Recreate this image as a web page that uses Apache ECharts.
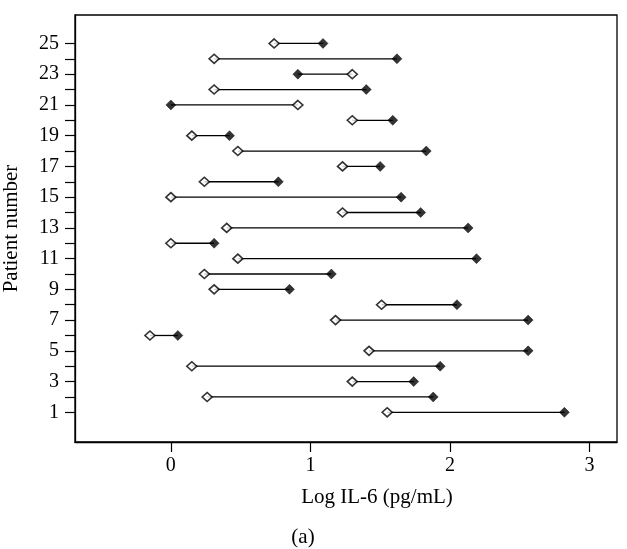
<!DOCTYPE html>
<html>
<head>
<meta charset="utf-8">
<script src="https://cdn.jsdelivr.net/npm/echarts@6/dist/echarts.min.js"></script>
<style>html,body{margin:0;padding:0;background:#fff;}#c{width:627px;height:549px;}</style>
</head>
<body>
<div id="c"></div>
<script>
// Patient numbers (y) and the two measured log IL-6 values per patient
var patients = [1,2,3,4,5,6,7,8,9,10,11,12,13,14,15,16,17,18,19,20,21,22,23,24,25];
var openValues   = [1.55,0.26,1.30,0.15,1.42,-0.15,1.18,1.51,0.31,0.24,0.48,0.00,0.40,1.23,0.00,0.24,1.23,0.48,0.15,1.30,0.91,0.31,1.30,0.31,0.74];
var filledValues = [2.82,1.88,1.74,1.93,2.56,0.05,2.56,2.05,0.85,1.15,2.19,0.31,2.13,1.79,1.65,0.77,1.50,1.83,0.42,1.59,0.00,1.40,0.91,1.62,1.09];
var xTicks = [0,1,2,3];
var yTicks = patients;
var yLabels = [1,3,5,7,9,11,13,15,17,19,21,23,25];

var FONT = 'Liberation Serif';
var chart = echarts.init(document.getElementById('c'), null, {renderer:'canvas'});

var segData = patients.map(function(p,i){ return [openValues[i], filledValues[i], p]; });
var openData = patients.map(function(p,i){ return [openValues[i], p]; });
var filledData = patients.map(function(p,i){ return [filledValues[i], p]; });

chart.setOption({
  animation:false,
  backgroundColor:'#fff',
  grid:{left:75, right:10, top:15, bottom:107, show:true, borderColor:'#000', borderWidth:1.3, containLabel:false, outerBoundsMode:'none'},
  xAxis:{
    type:'value', min:-0.687, max:3.197,
    splitLine:{show:false},
    axisLine:{show:true, onZero:false, lineStyle:{color:'#000', width:1.3}},
    axisTick:{show:true, length:10, lineStyle:{color:'#000', width:1.2}, customValues:xTicks},
    axisLabel:{customValues:xTicks, color:'#000', fontFamily:FONT, fontSize:20, margin:14}
  },
  yAxis:{
    type:'value', min:-0.93, max:26.85,
    splitLine:{show:false},
    axisLine:{show:true, onZero:false, lineStyle:{color:'#000', width:1.3}},
    axisTick:{show:true, length:10, lineStyle:{color:'#000', width:1.2}, customValues:yTicks},
    axisLabel:{customValues:yLabels, color:'#000', fontFamily:FONT, fontSize:20, margin:16},
    name:'Patient number', nameLocation:'middle', nameGap:53, nameRotate:90,
    nameTextStyle:{color:'#000', fontFamily:FONT, fontSize:21}
  },
  graphic:[
    {type:'text', x:377, y:497, style:{text:'Log IL-6 (pg/mL)', fill:'#000', font:'21px "Liberation Serif"', align:'center', verticalAlign:'middle'}},
    {type:'text', x:303, y:537, style:{text:'(a)', fill:'#000', font:'21px "Liberation Serif"', align:'center', verticalAlign:'middle'}}
  ],
  series:[
    {
      type:'custom', data:segData, encode:{x:[0,1], y:2}, z:1,
      renderItem:function(params, api){
        var a = api.coord([api.value(0), api.value(2)]);
        var b = api.coord([api.value(1), api.value(2)]);
        return {type:'line', shape:{x1:a[0], y1:a[1], x2:b[0], y2:b[1]}, style:{stroke:'#000', lineWidth:1.3}};
      }
    },
    {type:'scatter', data:openData, symbol:'diamond', symbolSize:[10,9], z:3,
     itemStyle:{color:'#fff', borderColor:'#000', borderWidth:1.6}},
    {type:'scatter', data:filledData, symbol:'diamond', symbolSize:[10,10], z:3,
     itemStyle:{color:'#000', borderColor:'#000', borderWidth:0.5}}
  ]
});
</script>
</body>
</html>
